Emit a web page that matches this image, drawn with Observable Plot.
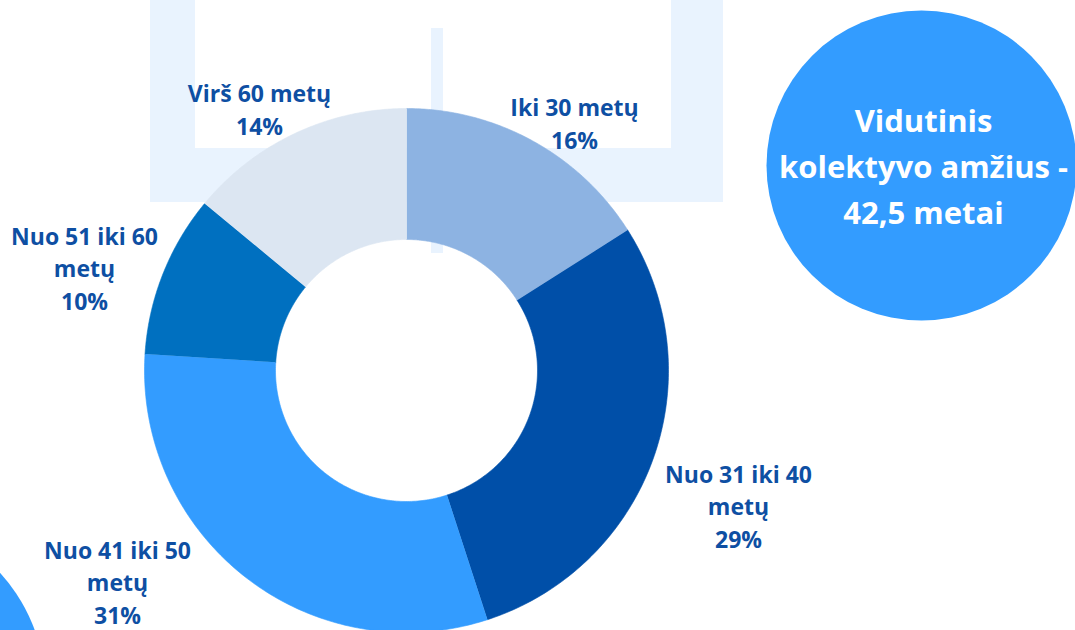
<!DOCTYPE html>
<html>
<head>
<meta charset="utf-8">
<script src="https://cdn.jsdelivr.net/npm/d3@7"></script>
<script src="https://cdn.jsdelivr.net/npm/@observablehq/plot@0.6"></script>
<style>
  html, body { margin: 0; padding: 0; background: #ffffff; overflow: hidden; }
  #chart svg { display: block; }
</style>
</head>
<body>
<div id="chart"></div>
<script>
// ---- Data ----
const categories = ["Iki 30 metų", "Nuo 31 iki 40 metų", "Nuo 41 iki 50 metų", "Nuo 51 iki 60 metų", "Virš 60 metų"];
const values = [16, 29, 31, 10, 14];
const labelLines = ["Iki 30 metų", "Nuo 31 iki 40\nmetų", "Nuo 41 iki 50\nmetų", "Nuo 51 iki 60\nmetų", "Virš 60 metų"];
const calloutText = "Vidutinis\nkolektyvo amžius -\n42,5 metai";

// ---- Layout / style (not data) ----
const W = 1075, H = 630;
const colors = ["#8db3e2", "#004fa8", "#339cff", "#0070c0", "#dce6f2"];
const center = {x: 406, y: 370};
const rOuter = 262, rInner = 131;
const labelPos = [
  {x: 574, y: 148}, {x: 738, y: 547}, {x: 117, y: 623}, {x: 84, y: 309}, {x: 259, y: 134}
];
const frameColor = "#e9f3fe";
const frameRects = [
  {x1: 150, x2: 195, y1: 0, y2: 202},
  {x1: 150, x2: 723, y1: 148, y2: 202},
  {x1: 671, x2: 723, y1: 0, y2: 202},
  {x1: 431, x2: 443, y1: 28, y2: 253}
];
const bubbles = [
  {x: 921, y: 165, r: 155},
  {x: -130, y: 690, r: 175}
];

// ---- Build donut slice outlines from the values ----
const pie = d3.pie().sort(null).value(d => d.value)(categories.map((c, i) => ({cat: c, value: values[i]})));
const slicePts = [];
const steps = 120;
pie.forEach(p => {
  const a0 = p.startAngle, a1 = p.endAngle;
  for (let k = 0; k <= steps; k++) {
    const a = a0 + (a1 - a0) * k / steps;
    slicePts.push({cat: p.data.cat, x: center.x + rOuter * Math.sin(a), y: center.y - rOuter * Math.cos(a)});
  }
  for (let k = steps; k >= 0; k--) {
    const a = a0 + (a1 - a0) * k / steps;
    slicePts.push({cat: p.data.cat, x: center.x + rInner * Math.sin(a), y: center.y - rInner * Math.cos(a)});
  }
});

const labels = categories.map((c, i) => ({
  cat: c,
  text: labelLines[i] + "\n" + values[i] + "%",
  x: labelPos[i].x, y: labelPos[i].y
}));

const plot = Plot.plot({
  width: W, height: H,
  margin: 0,
  x: {domain: [0, W], range: [0, W], axis: null},
  y: {domain: [0, H], range: [0, H], axis: null},
  r: {type: "identity"},
  color: {domain: categories, range: colors},
  style: {background: "#ffffff", overflow: "hidden"},
  marks: [
    Plot.rect(frameRects, {x1: "x1", x2: "x2", y1: "y1", y2: "y2", fill: frameColor}),
    Plot.dot(bubbles, {x: "x", y: "y", r: "r", fill: "#339cff", stroke: null}),
    Plot.line(slicePts, {x: "x", y: "y", z: "cat", fill: "cat", stroke: "cat", strokeWidth: 0.6, curve: "linear"}),
    Plot.text(labels, {
      x: "x", y: "y", text: "text",
      textAnchor: "middle", lineAnchor: "bottom", lineHeight: 1.4,
      fontFamily: "Open Sans", fontWeight: "bold", fontSize: 23, fill: "#0e4fa3"
    }),
    Plot.text([calloutText], {
      x: () => 923, y: () => 223, text: d => d,
      textAnchor: "middle", lineAnchor: "bottom", lineHeight: 1.47,
      fontFamily: "Open Sans", fontWeight: "bold", fontSize: 31, fill: "#ffffff"
    })
  ]
});
document.getElementById("chart").appendChild(plot);
</script>
</body>
</html>
